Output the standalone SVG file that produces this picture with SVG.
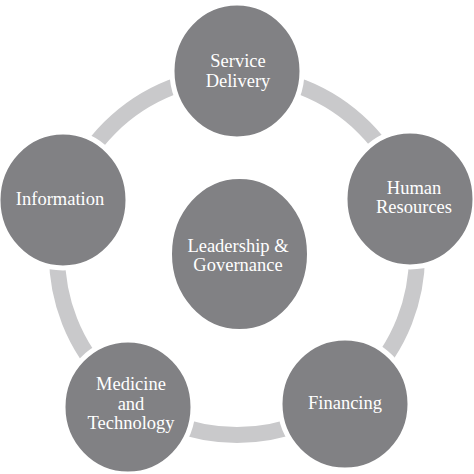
<svg xmlns="http://www.w3.org/2000/svg" width="474" height="474" viewBox="0 0 474 474">
<style>
.node{fill:#818184;stroke:#ffffff;stroke-width:5}
.lbl{font-family:"Liberation Serif","DejaVu Serif",serif;font-size:18.5px;fill:#ffffff;text-anchor:middle}
</style>
<rect width="474" height="474" fill="#ffffff"/>
<g id="connectors">
<circle cx="237" cy="255" r="180" fill="none" stroke="#c9c9cb" stroke-width="16"/>
</g>
<g id="service-delivery">
<ellipse class="node" cx="237" cy="71" rx="65" ry="68"/>
<text class="lbl" x="238" y="67">Service</text>
<text class="lbl" x="238" y="87">Delivery</text>
</g>
<g id="human-resources">
<ellipse class="node" cx="410" cy="199" rx="65" ry="68"/>
<text class="lbl" x="414" y="194">Human</text>
<text class="lbl" x="414" y="213">Resources</text>
</g>
<g id="financing">
<ellipse class="node" cx="345" cy="404" rx="65" ry="66"/>
<text class="lbl" x="345" y="409">Financing</text>
</g>
<g id="medicine-technology">
<ellipse class="node" cx="128" cy="407" rx="65" ry="67"/>
<text class="lbl" x="131" y="390">Medicine</text>
<text class="lbl" x="131" y="410">and</text>
<text class="lbl" x="131" y="429">Technology</text>
</g>
<g id="information">
<ellipse class="node" cx="63" cy="200" rx="65" ry="68"/>
<text class="lbl" x="60" y="205">Information</text>
</g>
<g id="leadership-governance">
<ellipse class="node" cx="239.5" cy="254" rx="70" ry="77.5" stroke-width="0"/>
<text class="lbl" x="238" y="252">Leadership &amp;</text>
<text class="lbl" x="238" y="271">Governance</text>
</g>
</svg>
